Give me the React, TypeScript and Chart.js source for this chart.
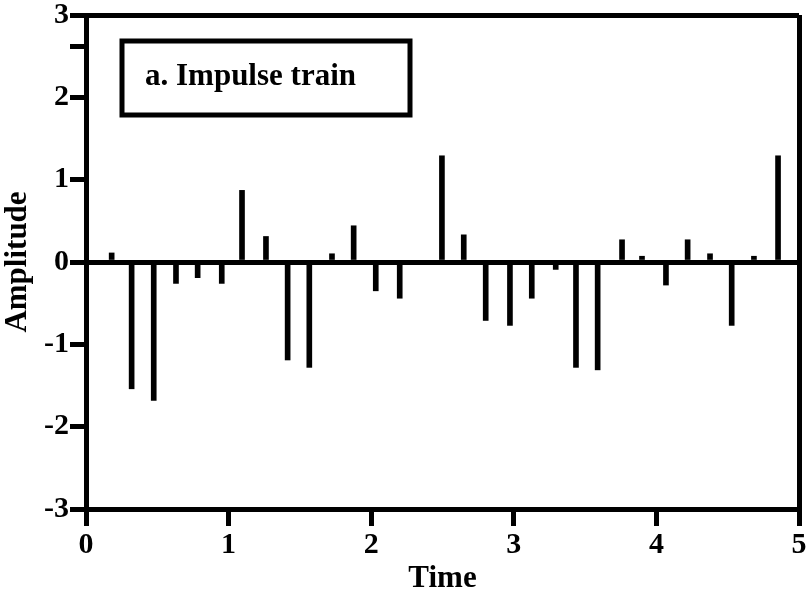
import { useEffect, useRef } from "react";
import { Chart, registerables } from "chart.js";

Chart.register(...registerables);

const times = [
  0, 0.18, 0.32, 0.475, 0.631, 0.783, 0.952, 1.094, 1.262, 1.414, 1.566,
  1.725, 1.877, 2.032, 2.2, 2.344, 2.496, 2.649, 2.803, 2.973, 3.126, 3.294,
  3.436, 3.588, 3.759, 3.899, 4.067, 4.219, 4.376, 4.528, 4.684, 4.853,
];
const amplitudes = [
  0, 0.11, -1.54, -1.68, -0.26, -0.19, -0.26, 0.87, 0.31, -1.19, -1.28, 0.1,
  0.44, -0.35, -0.44, 0, 1.29, 0.33, -0.71, -0.77, -0.44, -0.09, -1.28, -1.31,
  0.27, 0.07, -0.28, 0.27, 0.1, -0.77, 0.07, 1.29,
];
const xTicks = [0, 1, 2, 3, 4, 5];
const yTicks = [-3, -2, -1, 0, 1, 2, 3];
const extraYTick = 2.62;
const legendLabel = "a. Impulse train";
const xTitle = "Time";
const yTitle = "Amplitude";

const FONT = "'Liberation Serif', 'Times New Roman', serif";

export default function App() {
  const ref = useRef<HTMLCanvasElement>(null);

  useEffect(() => {
    if (!ref.current) return;
    const boxPlugin = {
      id: "labelBox",
      afterDraw(chart: any) {
        const { ctx, chartArea } = chart;
        ctx.save();
        ctx.lineWidth = 5;
        ctx.strokeStyle = "#000";
        ctx.strokeRect(chartArea.left + 36, chartArea.top + 26, 288, 74);
        ctx.font = `bold 31px ${FONT}`;
        ctx.fillStyle = "#000";
        ctx.textBaseline = "alphabetic";
        ctx.fillText(legendLabel, chartArea.left + 59, chartArea.top + 70);
        ctx.restore();
      },
    };

    const chart = new Chart(ref.current, {
      type: "bar",
      data: {
        datasets: [
          {
            data: times.map((t, i) => ({ x: t, y: amplitudes[i] })),
            backgroundColor: "#000",
            borderWidth: 0,
            barThickness: 5,
          },
        ],
      },
      options: {
        animation: false,
        responsive: false,
        maintainAspectRatio: false,
        layout: { padding: { top: 15, right: 7, left: 0, bottom: 0 } },
        plugins: { legend: { display: false }, tooltip: { enabled: false } },
        scales: {
          x: {
            type: "linear",
            min: 0,
            max: 5,
            offset: false,
            afterBuildTicks: (s: any) => {
              s.ticks = xTicks.map((v) => ({ value: v }));
            },
            afterFit: (s: any) => {
              s.height = 81;
              s.paddingLeft = 0;
              s.paddingRight = 0;
            },
            grid: {
              offset: false,
              color: (c: any) =>
                c.tick && c.tick.value === 5 ? "#000" : "rgba(0,0,0,0)",
              lineWidth: 5,
              tickColor: "#000",
              tickWidth: 5,
              tickLength: 17,
            },
            border: { color: "#000", width: 5 },
            ticks: {
              color: "#000",
              font: { family: FONT, size: 30, weight: "bold" },
              padding: 1,
              maxRotation: 0,
              callback: (v: any) => String(v),
            },
            title: {
              display: true,
              text: xTitle,
              color: "#000",
              font: { family: FONT, size: 31, weight: "bold", lineHeight: 1 },
              padding: { top: 0, bottom: -4 },
            },
          },
          y: {
            type: "linear",
            min: -3,
            max: 3,
            afterBuildTicks: (s: any) => {
              s.ticks = [...yTicks, extraYTick].map((v) => ({ value: v }));
            },
            afterFit: (s: any) => {
              s.width = 86;
              s.paddingTop = 0;
              s.paddingBottom = 0;
            },
            grid: {
              color: (c: any) =>
                c.tick && (c.tick.value === 0 || c.tick.value === 3)
                  ? "#000"
                  : "rgba(0,0,0,0)",
              lineWidth: 5,
              tickColor: "#000",
              tickWidth: 5,
              tickLength: 16,
            },
            border: { color: "#000", width: 5 },
            ticks: {
              color: "#000",
              font: { family: FONT, size: 30, weight: "bold" },
              padding: 1,
              callback: (v: any) => (Number.isInteger(v) ? String(v) : ""),
            },
            title: {
              display: true,
              text: yTitle,
              color: "#000",
              font: { family: FONT, size: 31, weight: "bold", lineHeight: 1 },
              padding: { top: 2, bottom: 0 },
            },
          },
        },
      },
      plugins: [boxPlugin],
    } as any);

    return () => chart.destroy();
  }, []);

  return (
    <div
      style={{
        position: "fixed",
        left: 0,
        top: 0,
        width: 806,
        height: 590,
        background: "#fff",
      }}
    >
      <canvas
        ref={ref}
        width={806}
        height={590}
        style={{ width: 806, height: 590, display: "block" }}
      />
    </div>
  );
}
